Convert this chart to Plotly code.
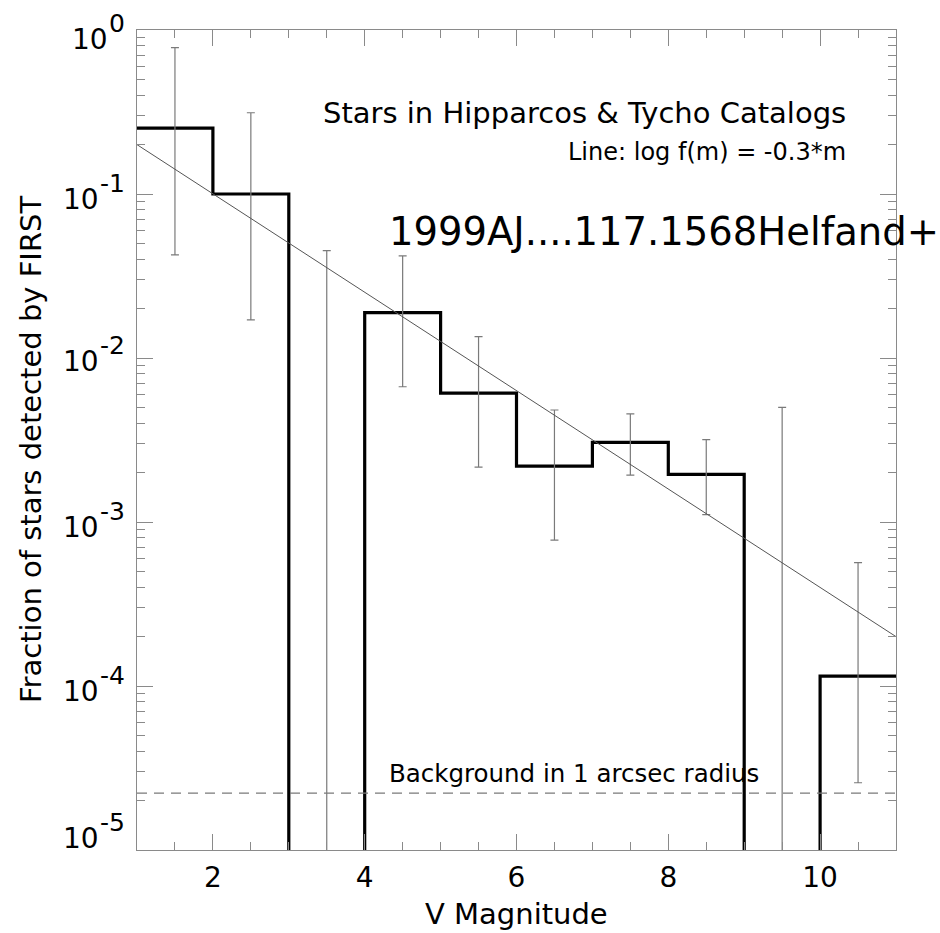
import math
import plotly.graph_objects as go

# ---- data ----
bin_edges = [1, 2, 3, 4, 5, 6, 7, 8, 9, 10, 11]
fraction = [0.252, 0.100, 0.0, 0.0189, 0.0061, 0.00219, 0.00306, 0.00195, 0.0, 0.000115]
bin_centers = [1.5, 2.5, 3.5, 4.5, 5.5, 6.5, 7.5, 8.5, 9.5, 10.5]
err_hi = [0.78, 0.313, 0.0451, 0.0419, 0.0135, 0.00482, 0.00456, 0.00318, 0.0050, 0.000565]
err_lo = [0.0425, 0.0171, 1e-7, 0.00668, 0.00216, 0.000776, 0.00193, 0.00111, 1e-7, 2.57e-5]
model_x = [1, 11]
model_y = [0.2, 0.0002]
background = 2.22e-5
ytick_vals = [1e-5, 1e-4, 1e-3, 1e-2, 1e-1, 1]
ytick_exp = ["-5", "-4", "-3", "-2", "-1", "0"]

FLOOR = 1e-8  # stand-in for empty bins on the log axis
step_y = [v if v > 0 else FLOOR for v in fraction] + [fraction[-1] if fraction[-1] > 0 else FLOOR]

FONT = "DejaVu Sans, Liberation Sans, Arial, sans-serif"
AXC = "#8a8a8a"

fig = go.Figure()

# histogram step line
fig.add_trace(go.Scatter(x=bin_edges, y=step_y, mode="lines", line_shape="hv",
                         line=dict(color="black", width=3.2), showlegend=False))

# error bars
centers = [(lo * hi) ** 0.5 for lo, hi in zip(err_lo, err_hi)]
fig.add_trace(go.Scatter(
    x=bin_centers, y=centers, mode="markers",
    marker=dict(size=1, opacity=0),
    error_y=dict(type="data", symmetric=False,
                 array=[h - c for h, c in zip(err_hi, centers)],
                 arrayminus=[c - l for l, c in zip(err_lo, centers)],
                 color="#7a7a7a", thickness=1.2, width=4),
    showlegend=False))

# model line
fig.add_trace(go.Scatter(x=model_x, y=model_y, mode="lines",
                         line=dict(color="#555555", width=1), showlegend=False))

# background dashed line
fig.add_trace(go.Scatter(x=[bin_edges[0], bin_edges[-1]], y=[background, background], mode="lines",
                         line=dict(color="#7a7a7a", width=1.2, dash="10px,7px"), showlegend=False))

minor_y = [k * 10.0 ** e for e in range(-5, 0) for k in range(2, 10)]

fig.update_xaxes(range=[1, 11], tickmode="linear", tick0=0, dtick=2,
                 ticks="inside", ticklen=16, tickwidth=1, tickcolor=AXC,
                 minor=dict(dtick=0.5, ticks="inside", ticklen=8, tickcolor=AXC, showgrid=False),
                 showline=True, linecolor=AXC, linewidth=1, mirror="allticks",
                 showgrid=False, zeroline=False, automargin=False,
                 tickfont=dict(family=FONT, size=28, color="black"),
                 ticklabelstandoff=2)
fig.update_yaxes(type="log", range=[-5, 0], tickmode="array", tickvals=ytick_vals,
                 showticklabels=False,
                 ticks="inside", ticklen=16, tickwidth=1, tickcolor=AXC,
                 minor=dict(tickmode="array", tickvals=minor_y, ticks="inside", ticklen=8,
                            tickcolor=AXC, showgrid=False),
                 showline=True, linecolor=AXC, linewidth=1, mirror="allticks",
                 showgrid=False, zeroline=False, automargin=False)

L, R, T, B = 137, 44, 30, 83
W, H = 940, 933
pw, ph = W - L - R, H - T - B

def px(x):
    return (x - L) / pw

def py(y):
    return (H - B - y) / ph

ann = [
    dict(text="Stars in Hipparcos & Tycho Catalogs", x=px(848), y=py(113), xanchor="right", yanchor="middle",
         font=dict(family=FONT, size=29, color="black")),
    dict(text="Line: log f(m) = -0.3*m", x=px(848), y=py(152), xanchor="right", yanchor="middle",
         font=dict(family=FONT, size=24, color="black")),
    dict(text="1999AJ....117.1568Helfand+", x=px(387), y=py(231), xanchor="left", yanchor="middle",
         font=dict(family="Comic Sans MS, DejaVu Sans, sans-serif", size=38.5, color="black")),
    dict(text="Background in 1 arcsec radius", x=px(574), y=py(773), xanchor="center", yanchor="middle",
         font=dict(family=FONT, size=24.5, color="black")),
    dict(text="V Magnitude", x=0.5, y=py(914), xanchor="center", yanchor="middle",
         font=dict(family=FONT, size=29, color="black")),
    dict(text="Fraction of stars detected by FIRST", x=px(31), y=py(450), xanchor="center", yanchor="middle",
         textangle=-90, font=dict(family=FONT, size=29, color="black")),
]
for a in ann:
    a.update(xref="paper", yref="paper", showarrow=False)

# y tick labels: "10" with a near full-size raised exponent
EXP_SIZE = 25
GLYPH_W = {"-": 0.361, "0": 0.636, "1": 0.636, "2": 0.636, "3": 0.636, "4": 0.636, "5": 0.636}
BASE_DROP = [-12, 5, 5, 3, 5, 9]   # label offset (px, downward) from its tick, as in the reference
for val, ex, drop in zip(ytick_vals, ytick_exp, BASE_DROP):
    w_exp = sum(GLYPH_W[c] for c in ex) * EXP_SIZE
    right = 127
    ann.append(dict(text=ex, xref="paper", yref="y", x=px(right), y=math.log10(val),
                    xanchor="right", yanchor="middle", yshift=16 - drop, showarrow=False,
                    font=dict(family=FONT, size=EXP_SIZE, color="black")))
    ann.append(dict(text="10", xref="paper", yref="y", x=px(right - w_exp - 1), y=math.log10(val),
                    xanchor="right", yanchor="middle", yshift=-drop, showarrow=False,
                    font=dict(family=FONT, size=28, color="black")))

fig.update_layout(width=W, height=H, margin=dict(l=L, r=R, t=T, b=B, pad=0, autoexpand=False),
                  paper_bgcolor="white", plot_bgcolor="white",
                  annotations=ann, showlegend=False)

fig.write_html("out.html")
